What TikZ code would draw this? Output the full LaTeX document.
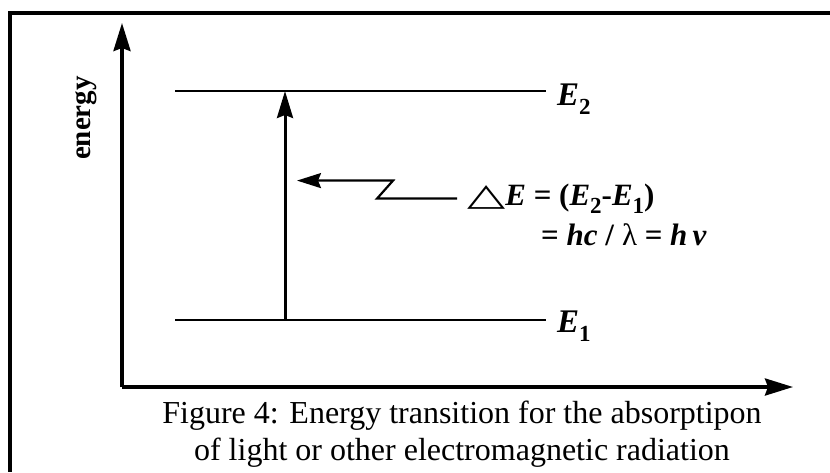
\documentclass[tikz,border=0pt]{standalone}
\usepackage{fontspec}
\setmainfont{Liberation Serif}
\newfontfamily\symfont{DejaVu Sans}
\usetikzlibrary{arrows.meta, positioning}

\newcommand{\Elevel}[1]{\textbf{\textit{E}}\raisebox{-0.28em}{\fontsize{23}{23}\selectfont\bfseries #1}}

\begin{document}
\begin{tikzpicture}[
  x=1pt, y=-1pt,
  every node/.style={inner sep=0pt},
  frame/.style={line width=3.5pt},
  axis/.style={line width=3.5pt, -{Stealth[length=28pt, width=17pt, inset=3pt]}},
  level/.style={line width=2.4pt},
  transition/.style={line width=3pt, -{Stealth[length=27pt, width=16pt, inset=3pt]}},
  pointer/.style={line width=2.2pt, -{Stealth[length=24pt, width=15pt, inset=3pt]}},
  lvltext/.style={font=\fontsize{33}{33}\selectfont},
  eqtext/.style={font=\fontsize{31}{31}\selectfont},
  caption/.style={font=\fontsize{32}{37}\selectfont, align=center},
]
\useasboundingbox (0,0) rectangle (830,472);

% Frame
\draw[frame] (830,13) -| (10,472);

% Axes
\coordinate (origin) at (122,387);
\coordinate (ytop) at (122,23);
\coordinate (xend) at (793,387);
\draw[axis] (origin) -- (ytop);
\draw[axis] (origin) -- (xend);
\node[rotate=90, anchor=base, font=\fontsize{29}{29}\selectfont\bfseries] (ylab) at (90,118) {energy};

% Energy levels
\coordinate (e2l) at (175,91);
\coordinate (e2r) at (546,91);
\coordinate (e1l) at (175,320);
\coordinate (e1r) at (546,320);
\draw[level] (e2l) -- (e2r);
\draw[level] (e1l) -- (e1r);
\node[lvltext, anchor=base west] (e2) at (557,105) {\Elevel{2}};
\node[lvltext, anchor=base west] (e1) at (557,332) {\Elevel{1}};

% Absorption
\coordinate (ebot) at (285,320);
\coordinate (etop) at (285,91);
\draw[transition] (ebot) -- (etop);

% Energy difference
\node[eqtext, anchor=base west] (delta) at (467,205)
  {{\symfont\scalebox{1.6}[1]{△}}\textbf{\textit{E} = (}\Elevel{2}\textbf{-}\Elevel{1}\textbf{)}};
\node[eqtext, anchor=base west] (freq) at (541,245)
  {\textbf{= \textit{hc} /} λ \textbf{= \textit{h}\,\textit{ν}}};
\draw[pointer] ([xshift=-10pt]delta.west) -- ++(-80,0) coordinate (kinkb)
  -- ++(16,-18) coordinate (kinka) -- ([xshift=12pt]kinka -| ebot);

% Caption
\node[caption, anchor=base] (cap) at (462,460)
  {Figure 4: Energy transition for the absorptipon\\of light or other electromagnetic radiation};

\end{tikzpicture}
\end{document}
